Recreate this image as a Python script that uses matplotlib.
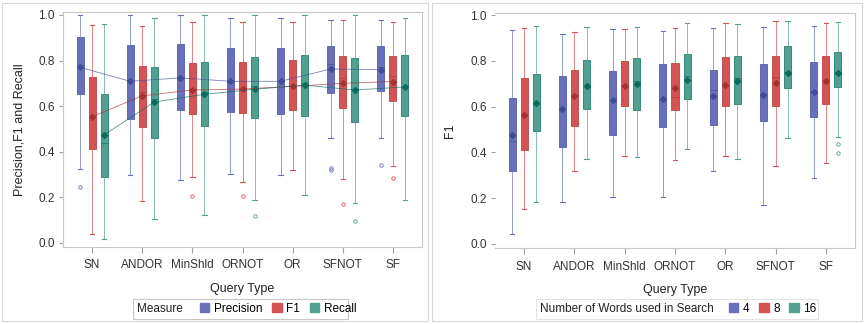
import matplotlib
matplotlib.use("Agg")
import matplotlib.pyplot as plt
from matplotlib.patches import Patch, Rectangle

plt.rcParams['font.family'] = ['Liberation Sans', 'DejaVu Sans']

query_types = ['SN', 'ANDOR', 'MinShld', 'ORNOT', 'OR', 'SFNOT', 'SF']

# each row: whisker low, q1, median, q3, whisker high, mean
precision = [
    [0.323, 0.652, 0.780, 0.902, 1.000, 0.770],
    [0.297, 0.543, 0.710, 0.867, 1.000, 0.709],
    [0.276, 0.583, 0.730, 0.873, 1.000, 0.724],
    [0.301, 0.576, 0.710, 0.854, 0.988, 0.709],
    [0.300, 0.564, 0.710, 0.857, 0.988, 0.709],
    [0.459, 0.659, 0.784, 0.866, 0.980, 0.763],
    [0.459, 0.667, 0.770, 0.866, 0.977, 0.760],
]
f1 = [
    [0.041, 0.411, 0.560, 0.727, 0.956, 0.554],
    [0.183, 0.507, 0.660, 0.775, 0.950, 0.645],
    [0.290, 0.564, 0.675, 0.790, 0.968, 0.671],
    [0.266, 0.572, 0.680, 0.792, 0.968, 0.675],
    [0.320, 0.582, 0.690, 0.803, 0.968, 0.687],
    [0.281, 0.594, 0.722, 0.822, 0.977, 0.700],
    [0.339, 0.624, 0.732, 0.822, 0.970, 0.708],
]
recall = [
    [0.018, 0.288, 0.437, 0.653, 0.960, 0.474],
    [0.104, 0.459, 0.630, 0.770, 0.985, 0.618],
    [0.123, 0.514, 0.660, 0.792, 1.000, 0.652],
    [0.187, 0.550, 0.690, 0.815, 1.000, 0.674],
    [0.209, 0.558, 0.700, 0.823, 1.000, 0.692],
    [0.174, 0.532, 0.675, 0.810, 1.000, 0.671],
    [0.187, 0.557, 0.690, 0.825, 0.988, 0.684],
]
precision_out = [[0.244], [], [], [], [], [0.328, 0.318], [0.342]]
f1_out = [[], [], [0.206], [0.206], [], [0.170], [0.286]]
recall_out = [[], [], [], [0.120], [], [0.096], []]

words4 = [
    [0.042, 0.317, 0.450, 0.636, 0.933, 0.477],
    [0.182, 0.425, 0.590, 0.735, 0.916, 0.591],
    [0.207, 0.477, 0.630, 0.755, 0.938, 0.627],
    [0.204, 0.511, 0.632, 0.785, 0.932, 0.631],
    [0.320, 0.518, 0.671, 0.758, 0.942, 0.648],
    [0.169, 0.537, 0.654, 0.787, 0.946, 0.651],
    [0.287, 0.556, 0.670, 0.793, 0.952, 0.665],
]
words8 = [
    [0.152, 0.412, 0.560, 0.725, 0.945, 0.562],
    [0.319, 0.517, 0.650, 0.758, 0.924, 0.648],
    [0.383, 0.604, 0.690, 0.799, 0.941, 0.690],
    [0.365, 0.584, 0.643, 0.789, 0.945, 0.681],
    [0.383, 0.604, 0.690, 0.817, 0.964, 0.693],
    [0.342, 0.604, 0.731, 0.820, 0.974, 0.704],
    [0.352, 0.613, 0.710, 0.822, 0.964, 0.710],
]
words16 = [
    [0.182, 0.493, 0.610, 0.742, 0.953, 0.614],
    [0.370, 0.591, 0.690, 0.802, 0.950, 0.690],
    [0.380, 0.585, 0.712, 0.811, 0.950, 0.699],
    [0.413, 0.632, 0.732, 0.828, 0.964, 0.715],
    [0.372, 0.613, 0.724, 0.822, 0.959, 0.713],
    [0.462, 0.683, 0.750, 0.863, 0.974, 0.745],
    [0.466, 0.686, 0.750, 0.837, 0.968, 0.745],
]
words_out = [[], [], [], [], [], [], []]
words16_out = [[], [], [], [], [], [], [0.437, 0.396]]

blue, blue_d = '#6870bb', '#3f4c99'
red, red_d = '#d65353', '#a83232'
teal, teal_d = '#52a090', '#0b6b5e'


def draw_group(ax, rows, outs, pos, color, dark, mean_line=False):
    stats = []
    for r, o in zip(rows, outs):
        stats.append(dict(whislo=r[0], q1=r[1], med=r[2], q3=r[3],
                          whishi=r[4], mean=r[5], fliers=o))
    ax.bxp(stats, positions=pos, widths=0.14, capwidths=0.09,
           patch_artist=True, showmeans=True,
           boxprops=dict(facecolor=color, edgecolor=dark, linewidth=0.5),
           medianprops=dict(color=dark, linewidth=0.6, alpha=0.7),
           whiskerprops=dict(color=color, linewidth=0.7, alpha=0.7),
           capprops=dict(color=color, linewidth=0.8),
           meanprops=dict(marker='D', markersize=3, markerfacecolor=dark,
                          markeredgecolor=dark),
           flierprops=dict(marker='o', markersize=2.5, markerfacecolor='none',
                           markeredgecolor=color, markeredgewidth=0.6))
    if mean_line:
        ax.plot(pos, [r[5] for r in rows], color=dark, lw=0.6, alpha=0.7,
                zorder=4)


def style(ax, ylabel, ylim, ypad, left_spine=True):
    ax.set_xlim(-0.58, 6.58)
    ax.set_ylim(*ylim)
    ax.set_xticks(range(7), query_types)
    ax.set_yticks([0, 0.2, 0.4, 0.6, 0.8, 1.0])
    ax.set_yticklabels(['0.0', '0.2', '0.4', '0.6', '0.8', '1.0'])
    for s in ax.spines.values():
        s.set_color('#c8c8c8')
        s.set_linewidth(0.8)
    ax.spines['left'].set_visible(left_spine)
    ax.tick_params(axis='both', colors='#a0a0a0', labelcolor='#333333',
                   labelsize=8.5, width=0.8)
    ax.tick_params(axis='y', length=3, pad=3)
    ax.tick_params(axis='x', length=4, pad=5)
    ax.set_xlabel('Query Type', fontsize=9, color='#222222', labelpad=8)
    ax.set_ylabel(ylabel, fontsize=9, color='#222222', labelpad=ypad)


fig = plt.figure(figsize=(8.65, 3.24), dpi=100)
W, H = 865, 324
ax1 = fig.add_axes([63 / W, 1 - 247 / H, 359 / W, 235 / H])
ax2 = fig.add_axes([495 / W, 1 - 248 / H, 360 / W, 235 / H])

x = list(range(7))
d = 0.24
draw_group(ax1, precision, precision_out, [i - d for i in x], blue, blue_d, True)
draw_group(ax1, f1, f1_out, x, red, red_d, True)
draw_group(ax1, recall, recall_out, [i + d for i in x], teal, teal_d, True)
style(ax1, 'Precision,F1 and Recall', (-0.018, 1.013), 9)

draw_group(ax2, words4, words_out, [i - d for i in x], blue, blue_d)
draw_group(ax2, words8, words_out, x, red, red_d)
draw_group(ax2, words16, words16_out, [i + d for i in x], teal, teal_d)
style(ax2, 'F1', (-0.018, 1.009), 10, left_spine=False)

# panel borders
for x0, x1 in [(2, 428), (432, 862)]:
    fig.add_artist(Rectangle((x0 / W, 3 / H), (x1 - x0) / W, 318 / H,
                             transform=fig.transFigure, fill=False,
                             edgecolor='#d8d8d8', lw=0.8))

# legends
ly = 1 - 309 / H
fig.text(137 / W, ly, 'Measure', va='center', fontsize=8.5, color='#222222')
fig.legend(handles=[Patch(color=blue, label='Precision'),
                    Patch(color=red, label='F1'),
                    Patch(color=teal, label='Recall')],
           loc='center left', bbox_to_anchor=(200 / W, ly), ncol=3,
           frameon=False, fontsize=8.5, handlelength=0.8, handleheight=0.8,
           handletextpad=0.4, columnspacing=0.8, borderaxespad=0, borderpad=0)
fig.add_artist(Rectangle((133 / W, 1 - 319 / H), 215 / W, 20 / H,
                         transform=fig.transFigure, fill=False,
                         edgecolor='#c8c8c8', lw=0.8))

fig.text(540 / W, ly, 'Number of Words used in Search', va='center',
         fontsize=8.5, color='#222222')
fig.legend(handles=[Patch(color=blue, label='4'),
                    Patch(color=red, label='8'),
                    Patch(color=teal, label='16')],
           loc='center left', bbox_to_anchor=(729 / W, ly), ncol=3,
           frameon=False, fontsize=8.5, handlelength=0.8, handleheight=0.8,
           handletextpad=0.4, columnspacing=0.8, borderaxespad=0, borderpad=0)
fig.add_artist(Rectangle((536 / W, 1 - 319 / H), 282 / W, 20 / H,
                         transform=fig.transFigure, fill=False,
                         edgecolor='#e4e4e4', lw=0.8))

fig.savefig('out.png', dpi=100)
